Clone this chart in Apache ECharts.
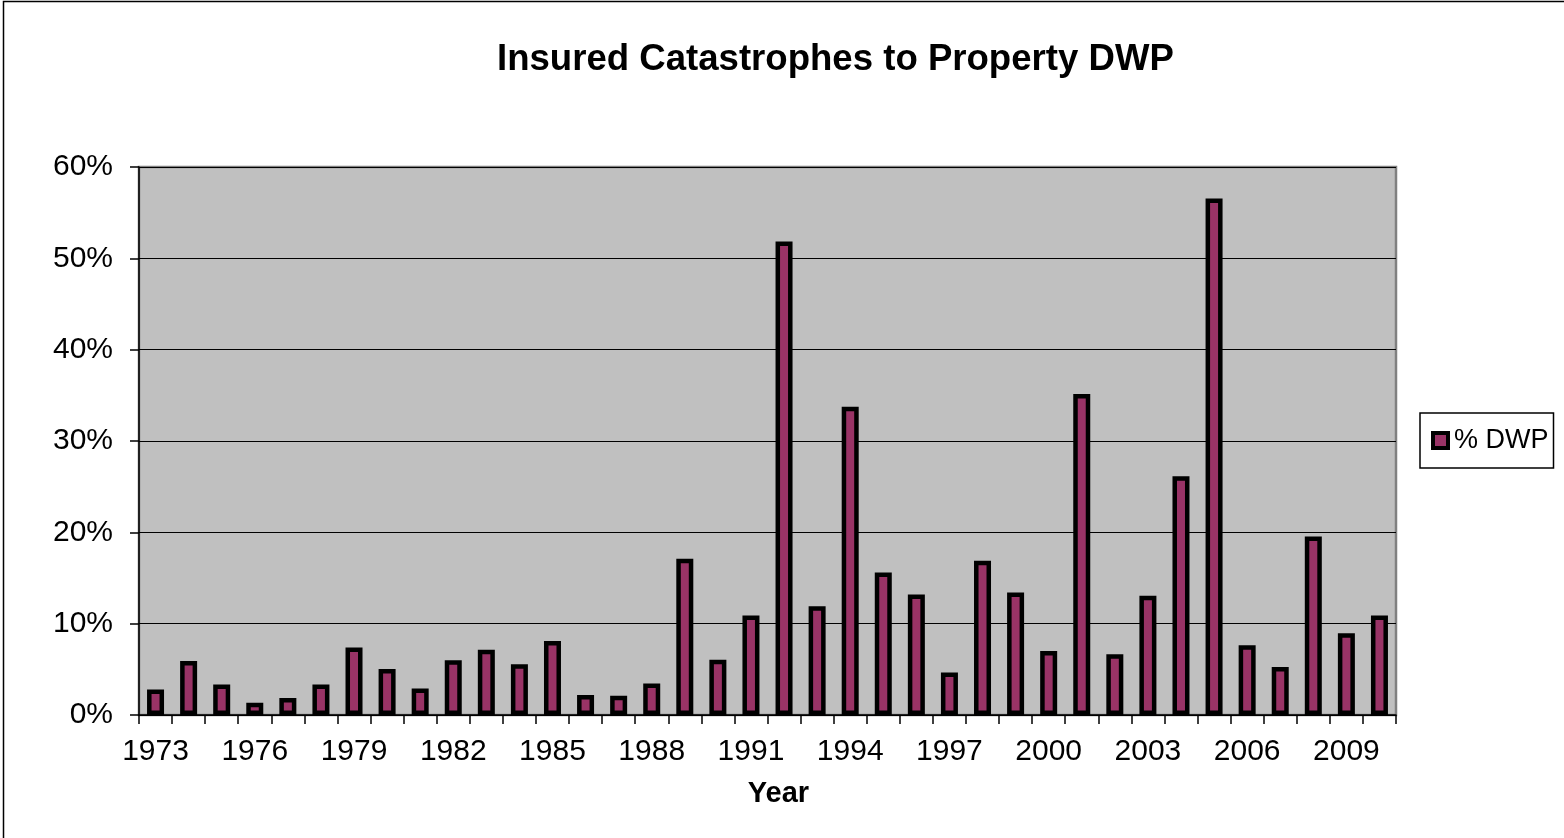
<!DOCTYPE html>
<html>
<head>
<meta charset="utf-8">
<title>Insured Catastrophes to Property DWP</title>
<script src="https://cdn.jsdelivr.net/npm/echarts@6/dist/echarts.min.js"></script>
<style>
  html, body { margin: 0; padding: 0; background: #fff; }
  #chart { width: 1564px; height: 838px; }
</style>
</head>
<body>
<div id="chart"></div>
<script>
// Years on the category axis
const years = ['1973','1974','1975','1976','1977','1978','1979','1980','1981','1982',
               '1983','1984','1985','1986','1987','1988','1989','1990','1991','1992',
               '1993','1994','1995','1996','1997','1998','1999','2000','2001','2002',
               '2003','2004','2005','2006','2007','2008','2009','2010'];

// Insured catastrophe losses as % of property direct written premium
const pctDWP = [2.8, 5.9, 3.35, 1.35, 1.85, 3.35, 7.4, 5.05, 2.9, 6.0,
                7.15, 5.55, 8.1, 2.2, 2.1, 3.45, 17.1, 6.05, 10.9, 51.85,
                11.9, 33.75, 15.6, 13.2, 4.65, 16.9, 13.4, 7.0, 35.15, 6.65,
                13.05, 26.15, 56.55, 7.65, 5.25, 19.55, 8.95, 10.9];

// Value axis ticks (percent)
const yTicks = { min: 0, max: 60, step: 10 };

const seriesName = '% DWP';
const FONT = '"Liberation Sans", Arial, sans-serif';

const chart = echarts.init(document.getElementById('chart'), null, { renderer: 'canvas' });

chart.setOption({
  animation: false,
  backgroundColor: '#ffffff',
  textStyle: { fontFamily: FONT, color: '#000' },
  title: {
    text: 'Insured Catastrophes to Property DWP',
    left: 492,
    top: 36,
    textStyle: { fontFamily: FONT, fontSize: 36.6, fontWeight: 'bold', color: '#000' }
  },
  graphic: [{
    type: 'rect',
    shape: { x: 3.5, y: 1.5, width: 1600, height: 900 },
    style: { fill: 'none', stroke: '#000', lineWidth: 1.5 },
    silent: true
  }],
  legend: {
    data: [seriesName],
    orient: 'vertical',
    left: 1420,
    top: 413,
    padding: [14, 5, 14, 11],
    backgroundColor: '#ffffff',
    borderColor: '#000',
    borderWidth: 1.5,
    borderRadius: 0,
    icon: 'rect',
    itemWidth: 15,
    itemHeight: 15,
    itemGap: 4,
    itemStyle: { borderColor: '#000', borderWidth: 4 },
    textStyle: { fontFamily: FONT, fontSize: 27, color: '#000', padding: [0, 0, 0, 1] }
  },
  grid: {
    left: 139,
    right: 168,
    top: 167,
    bottom: 123,
    show: true,
    backgroundColor: '#c0c0c0',
    borderColor: '#808080',
    borderWidth: 2.5
  },
  xAxis: {
    type: 'category',
    data: years,
    name: 'Year',
    nameLocation: 'middle',
    nameGap: 64,
    nameTextStyle: { fontFamily: FONT, fontSize: 29, fontWeight: 'bold', color: '#000', padding: [0, 0, 0, 22] },
    axisLine: { show: true, lineStyle: { color: '#000', width: 1.5 } },
    axisTick: { show: true, interval: 0, alignWithLabel: false, length: 9, lineStyle: { color: '#000', width: 1.5 } },
    axisLabel: { interval: 2, margin: 22, fontFamily: FONT, fontSize: 30, color: '#000' },
    splitLine: { show: false }
  },
  yAxis: {
    type: 'value',
    min: yTicks.min,
    max: yTicks.max,
    interval: yTicks.step,
    axisLine: { show: true, lineStyle: { color: '#000', width: 1.5 } },
    axisTick: { show: true, length: 9, lineStyle: { color: '#000', width: 1.5 } },
    axisLabel: { formatter: '{value}%', margin: 26, fontFamily: FONT, fontSize: 30, color: '#000' },
    splitLine: { show: true, lineStyle: { color: '#000', width: 1.2 } }
  },
  series: [{
    name: seriesName,
    type: 'bar',
    data: pctDWP,
    barWidth: 17,
    itemStyle: { color: '#993366', borderColor: '#000', borderWidth: 4.5 }
  }]
});
</script>
</body>
</html>
